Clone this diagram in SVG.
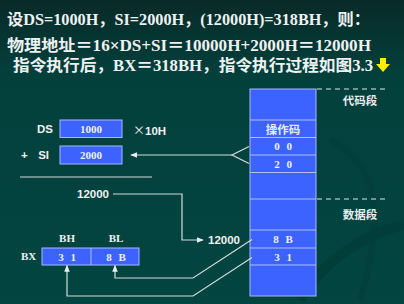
<svg xmlns="http://www.w3.org/2000/svg" width="404" height="304" viewBox="0 0 404 304">
<defs>
<linearGradient id="bg" x1="0" y1="0" x2="0" y2="1">
<stop offset="0" stop-color="#082a28"/>
<stop offset="0.25" stop-color="#03403c"/>
<stop offset="1" stop-color="#024541"/>
</linearGradient>
<marker id="ah" viewBox="0 0 10 10" refX="9" refY="5" markerWidth="7" markerHeight="7" markerUnits="userSpaceOnUse" orient="auto">
<path d="M0,1 L10,5 L0,9 Z" fill="#e8eeee"/>
</marker>
<style>
.t{font-family:"Liberation Serif","Noto Sans CJK SC",serif;font-weight:bold;fill:#eef2f2}
.s{font-family:"Liberation Sans","Noto Sans CJK SC",sans-serif;font-weight:bold;fill:#eef2f2;font-size:11.5px}
.v{font-family:"Liberation Serif",serif;font-weight:bold;fill:#eef2f2;font-size:11px;text-anchor:middle}
.w{word-spacing:4px}
.c{font-family:"Noto Sans CJK SC",sans-serif;font-weight:bold;fill:#e6ecec;font-size:11.5px;text-anchor:middle}
.box{fill:#3c62ff;stroke:#a8b8ff;stroke-width:1}
.ln{fill:none;stroke:#d4dcdc;stroke-width:1.2}
.row{stroke:#b0c0ff;stroke-width:1}
.dash{stroke:#e0e6e6;stroke-width:1.2;stroke-dasharray:5 4}
</style>
</defs>
<rect width="404" height="304" fill="url(#bg)"/>
<path d="M300,300 C330,250 380,230 404,225" fill="none" stroke="#013b37" stroke-width="10" opacity="0.6"/>
<path d="M330,140 C370,160 390,200 360,300" fill="none" stroke="#013b37" stroke-width="6" opacity="0.5"/>

<g id="title">
<text class="t" x="7" y="25" font-size="16" textLength="363" lengthAdjust="spacingAndGlyphs">设DS=1000H，SI=2000H，(12000H)=318BH，则：</text>
<text class="t" x="7" y="51" font-size="16" textLength="364" lengthAdjust="spacingAndGlyphs">物理地址＝16×DS+SI＝10000H+2000H＝12000H</text>
<text class="t" x="13" y="71" font-size="16" textLength="360" lengthAdjust="spacingAndGlyphs">指令执行后，BX＝318BH，指令执行过程如图3.3</text>
<polygon points="380,58 386,58 386,64 390,64 383,72 376,64 380,64" fill="#ffee00"/>
</g>

<g id="ds">
<text class="s" x="53" y="133" text-anchor="end">DS</text>
<rect class="box" x="60" y="120" width="62" height="17.5"/>
<text class="v" x="91" y="133">1000</text>
<text class="s" x="133" y="135"><tspan font-family="Noto Sans CJK SC,sans-serif" font-weight="normal" font-size="12">×</tspan>10H</text>
</g>
<g id="si">
<text class="s" x="21" y="159">+</text>
<text class="s" x="49" y="159" text-anchor="end">SI</text>
<rect class="box" x="60" y="146" width="62" height="18"/>
<text class="v" x="91" y="159">2000</text>
</g>
<line x1="20" y1="177" x2="152" y2="177" class="ln"/>

<g id="ea1"><text class="s" x="77" y="198">12000</text></g>
<g id="ea2"><text class="s" x="208" y="244">12000</text></g>

<g id="bx">
<text class="v" x="67" y="242">BH</text>
<text class="v" x="116" y="242">BL</text>
<text class="t" x="21" y="260" font-size="11">BX</text>
<rect class="box" x="42" y="248" width="97" height="17"/>
<line x1="91" y1="248" x2="91" y2="265" class="row"/>
<text class="v w" x="67" y="260.5">3 1</text>
<text class="v w" x="116" y="260.5">8 B</text>
</g>

<g id="memory">
<rect class="box" x="250" y="89" width="66" height="207"/>
<line class="row" x1="250" y1="120" x2="316" y2="120"/>
<line class="row" x1="250" y1="137.5" x2="316" y2="137.5"/>
<line class="row" x1="250" y1="155" x2="316" y2="155"/>
<line class="row" x1="250" y1="172.5" x2="316" y2="172.5"/>
<line class="row" x1="250" y1="199" x2="316" y2="199"/>
<line class="row" x1="250" y1="230" x2="316" y2="230"/>
<line class="row" x1="250" y1="248" x2="316" y2="248"/>
<line class="row" x1="250" y1="265" x2="316" y2="265"/>
<text class="c" x="283" y="134">操作码</text>
<text class="v w" x="283" y="150">0 0</text>
<text class="v w" x="283" y="168">2 0</text>
<text class="v w" x="283" y="243">8 B</text>
<text class="v w" x="283" y="261">3 1</text>
</g>
<g id="segments">
<line class="dash" x1="317" y1="89" x2="387" y2="89"/>
<text class="c" x="360" y="105">代码段</text>
<line class="dash" x1="317" y1="199" x2="387" y2="199"/>
<text class="c" x="360" y="219">数据段</text>
</g>

<g id="connectors">
<polyline class="ln" points="249,146.5 232,155 249,163.5"/>
<line class="ln" x1="232" y1="155" x2="131" y2="155" marker-end="url(#ah)"/>
<polyline class="ln" points="113,194 182,194 182,240 203,240" marker-end="url(#ah)"/>
<polyline class="ln" points="252,239.5 193,278 115,278 115,265.5" marker-end="url(#ah)"/>
<polyline class="ln" points="252,257.5 193,296 67,296 67,265.5" marker-end="url(#ah)"/>
</g>
</svg>
